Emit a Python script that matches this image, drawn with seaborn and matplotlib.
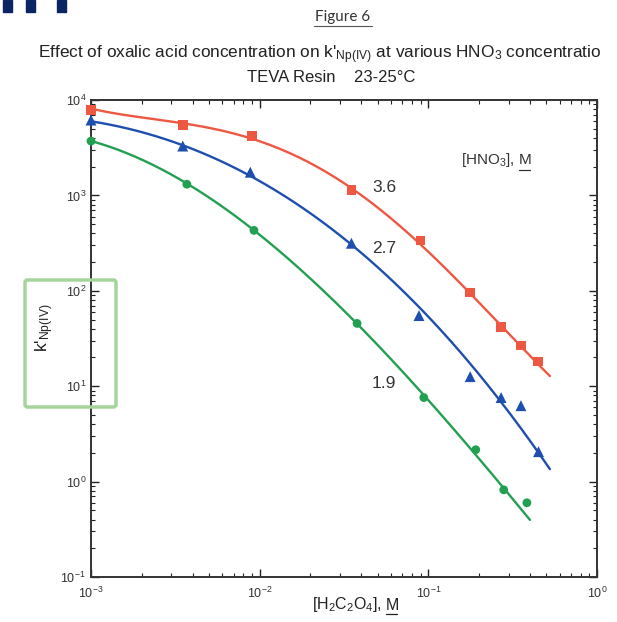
import matplotlib
matplotlib.use("Agg")
import matplotlib.pyplot as plt
import matplotlib.ticker as mticker
from matplotlib.patches import Rectangle, FancyBboxPatch
from matplotlib.lines import Line2D
import numpy as np
import pandas as pd
import seaborn as sns

# measured points
red_x = [0.001, 0.0035, 0.009, 0.035, 0.09, 0.177, 0.27, 0.354, 0.447]
red_y = [7850, 5460, 4190, 1135, 338, 96, 42, 26.7, 18.1]
blue_x = [0.001, 0.0035, 0.0088, 0.035, 0.088, 0.177, 0.27, 0.354, 0.45]
blue_y = [6160, 3290, 1750, 315, 55, 12.6, 7.6, 6.25, 2.06]
green_x = [0.001, 0.0037, 0.00925, 0.0378, 0.094, 0.191, 0.28, 0.384]
green_y = [3710, 1310, 430, 45.5, 7.6, 2.16, 0.82, 0.6]

# points read along the fitted curves of the figure
red_fit_x = [0.001, 0.001824, 0.00351, 0.005662, 0.009, 0.01413, 0.02216, 0.03524,
             0.0891, 0.1765, 0.2657, 0.349, 0.4403, 0.5258]
red_fit_y = [8044, 6953, 5463, 4842, 4087, 2984, 1931, 1107,
             338, 93.9, 42.3, 26.7, 17.7, 12.9]
blue_fit_x = [0.001, 0.001824, 0.003462, 0.00876, 0.03524, 0.06787, 0.1172, 0.1838,
              0.2657, 0.4169, 0.5258]
blue_fit_y = [6317, 4500, 3208, 1711, 315, 108.6, 38.4, 14.6, 7.06, 2.68, 1.30]
green_fit_x = [0.001, 0.003758, 0.009378, 0.03774, 0.06787, 0.09545, 0.1941, 0.2844, 0.4002]
green_fit_y = [3710, 1311, 431, 44.4, 15.7, 7.06, 2.11, 0.80, 0.387]

hno3_levels = ["3.6", "2.7", "1.9"]
colors = {"3.6": "#EE5843", "2.7": "#1F4FAE", "1.9": "#22A052"}
markers = {"3.6": "s", "2.7": "^", "1.9": "o"}
sizes = {"3.6": 48, "2.7": 62, "1.9": 40}
fit_order = {"3.6": 4, "2.7": 3, "1.9": 3}

pts = pd.concat([
    pd.DataFrame({"x": red_x, "y": red_y, "hno3": "3.6"}),
    pd.DataFrame({"x": blue_x, "y": blue_y, "hno3": "2.7"}),
    pd.DataFrame({"x": green_x, "y": green_y, "hno3": "1.9"}),
])


def smooth_fit(xs, ys, order, n=200):
    # polynomial fit in log-log space through the points
    lx, ly = np.log10(xs), np.log10(ys)
    coef = np.polyfit(lx, ly, order)
    gx = np.linspace(lx.min(), lx.max(), n)
    return 10 ** gx, 10 ** np.polyval(coef, gx)


frames = []
for lvl, cxs, cys in [("3.6", red_fit_x, red_fit_y), ("2.7", blue_fit_x, blue_fit_y),
                      ("1.9", green_fit_x, green_fit_y)]:
    cx, cy = smooth_fit(np.array(cxs), np.array(cys), fit_order[lvl])
    frames.append(pd.DataFrame({"x": cx, "y": cy, "hno3": lvl}))
fits = pd.concat(frames)

sns.set_theme(style="ticks")
plt.rcParams["font.family"] = ["Liberation Sans", "DejaVu Sans"]
plt.rcParams["mathtext.fontset"] = "custom"
plt.rcParams["mathtext.rm"] = "Liberation Sans"
plt.rcParams["mathtext.it"] = "Liberation Sans"
plt.rcParams["mathtext.default"] = "regular"

W, H = 617, 622
fig = plt.figure(figsize=(W / 100, H / 100), dpi=100)
ax = fig.add_axes([91 / W, 1 - 577 / H, 506 / W, 477 / H])


def fx(px):
    return px / W


def fy(py):
    return 1 - py / H


sns.lineplot(data=fits, x="x", y="y", hue="hno3", palette=colors, sort=False,
             estimator=None, linewidth=1.7, legend=False, ax=ax)
for lvl in hno3_levels:
    sub = pts[pts["hno3"] == lvl]
    sns.scatterplot(data=sub, x="x", y="y", color=colors[lvl], marker=markers[lvl],
                    s=sizes[lvl], edgecolor="none", legend=False,
                    ax=ax, zorder=3, clip_on=False)

ax.set_xscale("log")
ax.set_yscale("log")
ax.set_xlim(1e-3, 1)
ax.set_ylim(1e-1, 1e4)
ax.xaxis.set_major_locator(mticker.LogLocator(base=10, numticks=10))
ax.yaxis.set_major_locator(mticker.LogLocator(base=10, numticks=10))
ax.xaxis.set_minor_locator(mticker.LogLocator(base=10, subs=np.arange(2, 10), numticks=20))
ax.yaxis.set_minor_locator(mticker.LogLocator(base=10, subs=np.arange(2, 10), numticks=20))
ax.tick_params(which="both", direction="in", top=True, right=True, colors="#222222",
               labelsize=9, labelcolor="#333333")
ax.tick_params(which="major", length=6, width=1.0)
ax.tick_params(which="minor", length=3, width=0.8)
ax.tick_params(axis="x", which="major", pad=6)
for sp in ax.spines.values():
    sp.set_linewidth(1.4)
    sp.set_color("#333333")
ax.set_xlabel("")
ax.set_ylabel("")

# series labels
ax.text(0.0463, 1219, "3.6", fontsize=12.5, color="#333333", va="center")
ax.text(0.0463, 279, "2.7", fontsize=12.5, color="#333333", va="center")
ax.text(0.0463, 10.6, "1.9", fontsize=12.5, color="#333333", va="center")
fig.text(fx(515), fy(160), "[HNO$_3$],", fontsize=11, color="#333333",
         ha="right", va="center")
fig.text(fx(519), fy(160), "M", fontsize=11, color="#333333", ha="left", va="center")
fig.add_artist(Line2D([fx(519), fx(530)], [fy(170), fy(170)],
                      transform=fig.transFigure, color="#333333", lw=0.9))

# header decoration
for x0 in (3, 26, 57):
    fig.patches.append(Rectangle((fx(x0), fy(12)), 9 / W, 12 / H,
                                 transform=fig.transFigure, color="#0B2463"))

fig.text(fx(343), fy(17), "Figure 6", fontsize=11, family="Lato",
         color="#333333", ha="center", va="center")
fig.add_artist(Line2D([fx(314), fx(372)], [fy(26), fy(26)],
                      transform=fig.transFigure, color="#555555", lw=0.8))

# the source page cuts this line at its right edge
fig.text(fx(38), fy(55),
         "Effect of oxalic acid concentration on k'$_{Np(IV)}$ at various HNO$_3$ concentratio",
         fontsize=12.4, color="#222222", ha="left", va="center")
fig.text(fx(331), fy(78), "TEVA Resin    23-25°C", fontsize=12,
         color="#222222", ha="center", va="center")

# axis labels
fig.text(fx(45), fy(328), "k'$_{Np(IV)}$", fontsize=12.5, rotation=90,
         color="#222222", ha="center", va="center")
fig.text(fx(382), fy(605), "[H$_2$C$_2$O$_4$],", fontsize=11.5,
         color="#222222", ha="right", va="center")
fig.text(fx(386), fy(605), "M", fontsize=11.5, color="#222222",
         ha="left", va="center")
fig.add_artist(Line2D([fx(386), fx(397)], [fy(614), fy(614)],
                      transform=fig.transFigure, color="#222222", lw=0.9))

# highlight box around y label
fig.patches.append(FancyBboxPatch((fx(25), fy(407)), 91 / W, 127 / H,
                                  boxstyle="round,pad=0,rounding_size=0.004",
                                  transform=fig.transFigure, fill=False,
                                  edgecolor="#A6D49C", lw=2.5, zorder=5))

fig.savefig("out.png", dpi=100, facecolor="white")
